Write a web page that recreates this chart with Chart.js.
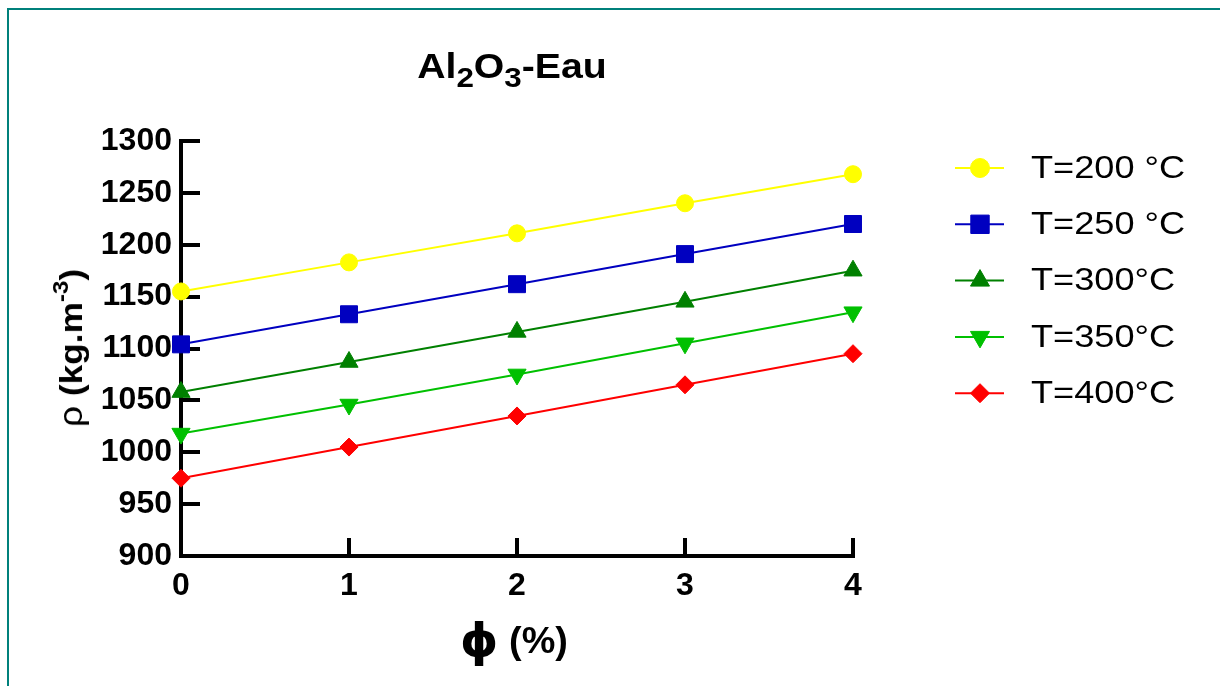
<!DOCTYPE html>
<html>
<head>
<meta charset="utf-8">
<title>Al2O3-Eau</title>
<script src="https://cdn.jsdelivr.net/npm/chart.js@4.4.0/dist/chart.umd.min.js"></script>
<style>
  body { margin: 0; background: #fff; }
  #wrap { position: relative; width: 1220px; height: 686px; overflow: hidden; font-family: Arial, "Liberation Sans", sans-serif; color: #000; }
  #frame { position: absolute; left: 7px; top: 8px; width: 1230px; height: 700px; border-top: 2px solid #00807b; border-left: 2px solid #00807b; }
  #graf { position: absolute; left: 0; top: 0; }
  #titulo { position: absolute; left: 512px; top: 65px; transform: translate(-50%, -50%) scaleX(1.12); font-weight: bold; font-size: 35px; line-height: 1; white-space: nowrap; }
  #titulo sub { font-size: 28px; vertical-align: -9px; line-height: 0; }
  #ytitulo { position: absolute; left: 70px; top: 348px; transform: translate(-50%, -50%) rotate(-90deg) scaleX(1.1); font-weight: bold; font-size: 32px; line-height: 1; white-space: nowrap; }
  #ytitulo .rho { font-weight: normal; font-size: 34px; }
  #ytitulo sup { font-size: 22px; vertical-align: 14px; line-height: 0; }
  #xtitulo { position: absolute; left: 514px; top: 640px; transform: translate(-50%, -50%) scaleX(1.05); font-weight: bold; font-size: 36px; line-height: 1; white-space: nowrap; }
  #xtitulo .phi { font-family: "DejaVu Sans", sans-serif; font-size: 46px; vertical-align: -3px; }
</style>
</head>
<body>
<div id="wrap">
  <div id="frame"></div>
  <canvas id="graf" width="1220" height="686"></canvas>
  <div id="titulo">Al<sub>2</sub>O<sub>3</sub>-Eau</div>
  <div id="ytitulo"><span class="rho">ρ</span> (kg.m<sup>-3</sup>)</div>
  <div id="xtitulo"><span class="phi">ϕ</span> (%)</div>
</div>
<script>
// Datos
const fraccion = [0, 1, 2, 3, 4];
const ticksY = [900, 950, 1000, 1050, 1100, 1150, 1200, 1250, 1300];
const etiquetas = ['T=200 °C', 'T=250 °C', 'T=300°C', 'T=350°C', 'T=400°C'];
const rho200 = [1155, 1183, 1211, 1240, 1268];
const rho250 = [1104, 1133, 1162, 1191, 1220];
const rho300 = [1058, 1087, 1116, 1145, 1175];
const rho350 = [1018, 1046, 1075, 1105, 1135];
const rho400 = [975, 1005, 1035, 1065, 1095];

const series = [rho200, rho250, rho300, rho350, rho400];
const colores = ['#ffff00', '#0000c0', '#008000', '#00c000', '#ff0000'];
const marcadores = [
    { pointStyle: 'circle', radius: 8.5, rotation: 0, legendRadius: 9.5 },
    { pointStyle: 'rect', radius: 12, rotation: 0, legendRadius: 13 },
    { pointStyle: 'triangle', radius: 10.5, rotation: 0, legendRadius: 11 },
    { pointStyle: 'triangle', radius: 10.5, rotation: 180, legendRadius: 11 },
    { pointStyle: 'rectRot', radius: 9, rotation: 0, legendRadius: 9.5 }
];

const datasets = series.map((vals, i) => ({
    label: etiquetas[i],
    data: fraccion.map((x, j) => ({ x, y: vals[j] })),
    borderColor: colores[i],
    backgroundColor: colores[i],
    borderWidth: 2,
    pointStyle: marcadores[i].pointStyle,
    pointRadius: marcadores[i].radius,
    pointRotation: marcadores[i].rotation,
    pointBorderWidth: 1,
    pointBackgroundColor: colores[i],
    pointBorderColor: colores[i],
    tension: 0,
    clip: false
}));

// Marcas de los ejes hacia adentro
const marcasInternas = {
    id: 'marcasInternas',
    beforeDatasetsDraw(chart) {
        const { ctx, chartArea: a, scales: { x, y } } = chart;
        ctx.save();
        ctx.strokeStyle = '#000';
        ctx.lineWidth = 4;
        ctx.beginPath();
        y.ticks.forEach(t => {
            if (t.value === y.min) return;
            const py = Math.round(y.getPixelForValue(t.value));
            ctx.moveTo(a.left, py);
            ctx.lineTo(a.left + 19, py);
        });
        x.ticks.forEach(t => {
            if (t.value === x.min) return;
            const px = Math.round(x.getPixelForValue(t.value));
            ctx.moveTo(px, a.bottom);
            ctx.lineTo(px, a.bottom - 18);
        });
        ctx.stroke();
        ctx.restore();
    }
};

// Leyenda a la derecha
const leyenda = {
    id: 'leyenda',
    afterDraw(chart) {
        const ctx = chart.ctx;
        chart.data.datasets.forEach((ds, i) => {
            const cy = 168 + i * 56.3;
            ctx.save();
            ctx.strokeStyle = ds.borderColor;
            ctx.lineWidth = 2;
            ctx.beginPath();
            ctx.moveTo(955, cy);
            ctx.lineTo(1004, cy);
            ctx.stroke();
            ctx.fillStyle = ds.backgroundColor;
            ctx.lineWidth = 1;
            Chart.helpers.drawPoint(ctx, {
                pointStyle: ds.pointStyle,
                radius: marcadores[i].legendRadius,
                rotation: ds.pointRotation,
                borderWidth: 1
            }, 980, cy);
            ctx.fillStyle = '#000';
            ctx.font = '32px Arial, "Liberation Sans", sans-serif';
            ctx.textBaseline = 'middle';
            ctx.textAlign = 'left';
            ctx.translate(1031, cy + 1);
            ctx.scale(1.13, 1);
            ctx.fillText(ds.label, 0, 0);
            ctx.restore();
        });
    }
};

const fuenteTicks = { family: 'Arial, "Liberation Sans", sans-serif', size: 32, weight: 'bold' };

new Chart(document.getElementById('graf').getContext('2d'), {
    type: 'line',
    data: { datasets },
    options: {
        responsive: false,
        animation: false,
        devicePixelRatio: 1,
        layout: { padding: { left: 0, top: 141, right: 367, bottom: 0 } },
        plugins: { legend: { display: false }, tooltip: { enabled: false }, title: { display: false } },
        scales: {
            x: {
                type: 'linear',
                min: fraccion[0],
                max: fraccion[fraccion.length - 1],
                offset: false,
                ticks: { stepSize: 1, color: '#000', font: fuenteTicks, padding: 11, maxRotation: 0, callback: v => String(v) },
                grid: { drawOnChartArea: false, drawTicks: false, lineWidth: 4, color: '#000' },
                border: { display: true, color: '#000', width: 4 },
                afterFit(s) { s.height = 130; }
            },
            y: {
                type: 'linear',
                min: ticksY[0],
                max: ticksY[ticksY.length - 1],
                ticks: { stepSize: ticksY[1] - ticksY[0], color: '#000', font: fuenteTicks, padding: 9, callback: v => String(v) },
                grid: { drawOnChartArea: false, drawTicks: false, lineWidth: 4, color: '#000' },
                border: { display: true, color: '#000', width: 4 },
                afterFit(s) { s.width = 181; }
            }
        }
    },
    plugins: [marcasInternas, leyenda]
});
</script>
</body>
</html>
